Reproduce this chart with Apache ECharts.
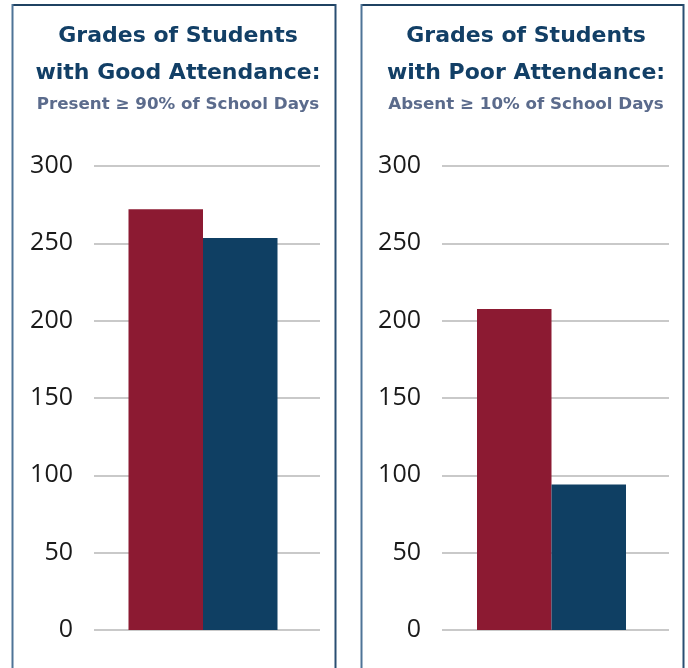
<!DOCTYPE html>
<html>
<head>
<meta charset="utf-8">
<script src="https://cdn.jsdelivr.net/npm/echarts@6/dist/echarts.min.js"></script>
<style>
html,body{margin:0;padding:0;background:#fff;}
#chart{width:688px;height:668px;}
</style>
</head>
<body>
<div id="chart"></div>
<script>
// ---- data ----
const categories = ['Grades'];
const seriesNames = ['Series A', 'Series B'];
const goodAttendanceA = [272];
const goodAttendanceB = [253.5];
const poorAttendanceA = [207.5];
const poorAttendanceB = [94];
const yMin = 0, yMax = 300, yInterval = 50;
const titleLeft = 'Grades of Students\nwith Good Attendance:';
const subLeft = 'Present \u2265 90% of School Days';
const titleRight = 'Grades of Students\nwith Poor Attendance:';
const subRight = 'Absent \u2265 10% of School Days';

const RED = '#8c1a32', BLUE = '#0f3f63';
const chart = echarts.init(document.getElementById('chart'), null, {renderer: 'canvas'});

// grids 0,1: gridlines + labels; grids 2,3: bars
function yAxisShown(gi) {
  return {
    type: 'value', gridIndex: gi, min: yMin, max: yMax, interval: yInterval,
    axisLine: {show: false}, axisTick: {show: false},
    axisLabel: {fontSize: 25, color: '#1a1a1a', fontFamily: 'Open Sans', margin: 21, padding: [6, 0, 0, 0]},
    splitLine: {lineStyle: {color: '#c9c9c9', width: 2}}
  };
}
function yAxisHidden(gi) {
  return {
    type: 'value', gridIndex: gi, min: yMin, max: yMax, interval: yInterval,
    axisLine: {show: false}, axisTick: {show: false}, axisLabel: {show: false}, splitLine: {show: false}
  };
}
function xAxis(gi) {
  return {
    type: 'category', gridIndex: gi, data: categories,
    axisLine: {show: false}, axisTick: {show: false}, axisLabel: {show: false}
  };
}
function bar(name, data, color, gi) {
  return {
    type: 'bar', name: name, xAxisIndex: gi, yAxisIndex: gi, data: data,
    barWidth: 74.5, barGap: '0%', itemStyle: {color: color}, z: 3
  };
}
const titleStyle = {fontFamily: 'DejaVu Sans', fontWeight: 'bold', fontSize: 22, color: '#123f66', lineHeight: 37};
const subStyle = {fontFamily: 'DejaVu Sans', fontWeight: 'bold', fontSize: 16.7, color: '#5b6b8c'};

function panel(x, w) {
  return [
    {type: 'line', shape: {x1: x, y1: 5, x2: x + w, y2: 5}, style: {stroke: '#1f4262', lineWidth: 2}},
    {type: 'line', shape: {x1: x, y1: 4, x2: x, y2: 668}, style: {stroke: '#4f7497', lineWidth: 2}},
    {type: 'line', shape: {x1: x + w, y1: 4, x2: x + w, y2: 668}, style: {stroke: '#2a4e72', lineWidth: 2}}
  ];
}

chart.setOption({
  animation: false,
  backgroundColor: '#fff',
  title: [
    {text: titleLeft, subtext: subLeft, left: 173, textAlign: 'center', top: 13, itemGap: 4, textStyle: titleStyle, subtextStyle: subStyle},
    {text: titleRight, subtext: subRight, left: 521, textAlign: 'center', top: 13, itemGap: 4, textStyle: titleStyle, subtextStyle: subStyle}
  ],
  grid: [
    {left: 94, width: 226, top: 166, bottom: 38},
    {left: 442, width: 227, top: 166, bottom: 38},
    {left: 90, width: 226, top: 166, bottom: 38},
    {left: 438, width: 227, top: 166, bottom: 38}
  ],
  xAxis: [xAxis(0), xAxis(1), xAxis(2), xAxis(3)],
  yAxis: [yAxisShown(0), yAxisShown(1), yAxisHidden(2), yAxisHidden(3)],
  series: [
    bar(seriesNames[0], goodAttendanceA, RED, 2),
    bar(seriesNames[1], goodAttendanceB, BLUE, 2),
    bar(seriesNames[0], poorAttendanceA, RED, 3),
    bar(seriesNames[1], poorAttendanceB, BLUE, 3)
  ],
  graphic: panel(12.5, 323).concat(panel(361.5, 322))
});
</script>
</body>
</html>
